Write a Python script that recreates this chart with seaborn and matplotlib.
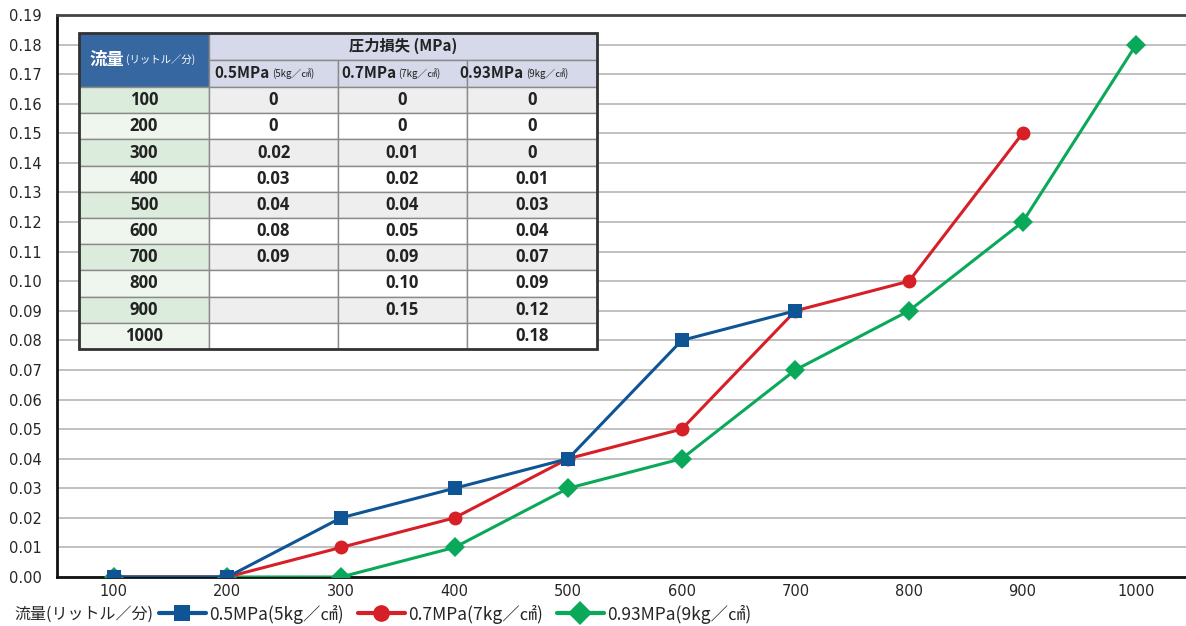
import numpy as np
import pandas as pd
import matplotlib
matplotlib.use('Agg')
import matplotlib.pyplot as plt
import seaborn as sb
from matplotlib.patches import Rectangle

# data
flow = [100, 200, 300, 400, 500, 600, 700, 800, 900, 1000]
loss_05 = [0, 0, 0.02, 0.03, 0.04, 0.08, 0.09, None, None, None]
loss_07 = [0, 0, 0.01, 0.02, 0.04, 0.05, 0.09, 0.10, 0.15, None]
loss_093 = [0, 0, 0, 0.01, 0.03, 0.04, 0.07, 0.09, 0.12, 0.18]
series_names = ['0.5MPa(5kg／㎠)', '0.7MPa(7kg／㎠)', '0.93MPa(9kg／㎠)']
table_heads = ['0.5MPa', '0.7MPa', '0.93MPa']
table_subs = ['(5kg／㎠)', '(7kg／㎠)', '(9kg／㎠)']
table_fmt = [['0', '0', '0.02', '0.03', '0.04', '0.08', '0.09', '', '', ''],
             ['0', '0', '0.01', '0.02', '0.04', '0.05', '0.09', '0.10', '0.15', ''],
             ['0', '0', '0', '0.01', '0.03', '0.04', '0.07', '0.09', '0.12', '0.18']]
colors = ['#0f5596', '#d61f26', '#0aa95a']
markers = ['s', 'o', 'D']

rows = []
for name, vals in zip(series_names, [loss_05, loss_07, loss_093]):
    for f, v in zip(flow, vals):
        if v is not None:
            rows.append({'flow': f, 'loss': v, 'series': name})
df = pd.DataFrame(rows)

sb.set_style('white')
plt.rcParams['font.family'] = ['DejaVu Sans']
JP = ['Noto Sans CJK JP', 'DejaVu Sans']
TB = ['Open Sans', 'Noto Sans CJK JP']

W, H = 1186, 626
fig = plt.figure(figsize=(W / 100, H / 100), dpi=100)
ax_l, ax_r, ax_t, ax_b = 57, 1193, 15, 577
ax = fig.add_axes([ax_l / W, 1 - ax_b / H, (ax_r - ax_l) / W, (ax_b - ax_t) / H])

sb.lineplot(data=df, x='flow', y='loss', hue='series', style='series',
            palette=colors, markers=markers, dashes=False, markersize=10,
            linewidth=2.2, markeredgewidth=0, ax=ax, legend=True)
# blue drawn on top, green at the bottom
for ln, z in zip(ax.lines[:3], [5, 4, 3]):
    ln.set_zorder(z)

ax.set_xlim(50, 1050)
ax.set_ylim(0, 0.19)
ax.set_yticks(np.arange(0, 0.195, 0.01))
ax.set_yticklabels([f'{v:.2f}' for v in np.arange(0, 0.195, 0.01)])
ax.set_xticks(flow)
ax.set_xticks(np.arange(150, 1000, 100), minor=True)
ax.yaxis.grid(True, color='#b5b5b5', linewidth=1.2)
ax.tick_params(axis='y', which='major', length=7, color='#b5b5b5', width=1.2,
               labelsize=10.5, pad=4)
ax.tick_params(axis='x', which='major', length=0, labelsize=10.5, pad=5)
ax.tick_params(axis='x', which='minor', direction='in', length=10, width=2, color='#111111')
ax.set_xlabel('')
ax.set_ylabel('')
for s in ['left', 'bottom']:
    ax.spines[s].set_color('#111111')
    ax.spines[s].set_linewidth(2)
ax.spines['top'].set_color('#444444')
ax.spines['top'].set_linewidth(2)

# legend along the bottom
handles, labels = ax.get_legend_handles_labels()
ax.get_legend().remove()
for h in handles:
    h.set_markersize(12)
    h.set_linewidth(3)
fig.text(14 / W, 1 - 614 / H, '流量(リットル／分)', family=JP, fontsize=11.5,
         va='center', ha='left')
fig.legend(handles, labels, loc='center left', bbox_to_anchor=(152 / W, 1 - 614 / H),
           ncol=3, frameon=False, prop={'family': JP, 'size': 12.5},
           handlelength=2.7, handletextpad=0.2, columnspacing=0.8, borderaxespad=0)


# table drawn in pixel coordinates of the figure
def px(x, y):
    return x / W, 1 - y / H


def cell(x0, y0, x1, y1, fc):
    fx0, fy1 = px(x0, y1)
    r = Rectangle((fx0, fy1), (x1 - x0) / W, (y1 - y0) / H, transform=fig.transFigure,
                  facecolor=fc, edgecolor='#8a8a8a', linewidth=1, zorder=5)
    fig.patches.append(r)


def txt(x, y, s, size=12, ha='center', color='#222222', bold=True, fam=TB):
    fig.text(*px(x, y), s, family=fam, fontsize=size, ha=ha, va='center',
             color=color, fontweight='bold' if bold else 'normal', zorder=6)


col_x = [79, 209, 338, 467, 597]
y_top, y_h1, y_h2, y_bot = 33, 60, 87, 349
row_h = (y_bot - y_h2) / len(flow)

cell(col_x[0], y_top, col_x[1], y_h2, '#3767a1')
txt(124, 60, '流量', size=12.5, ha='right', color='white', fam=JP)
txt(126, 60, '(リットル／分)', size=7.5, ha='left', color='white', bold=False, fam=JP)
cell(col_x[1], y_top, col_x[4], y_h1, '#d6d9ea')
txt((col_x[1] + col_x[4]) / 2, 46, '圧力損失 (MPa)', size=11, fam=JP)
splits = [270, 396, 524]
for i in range(3):
    cell(col_x[i + 1], y_h1, col_x[i + 2], y_h2, '#d6d9ea')
    txt(splits[i], 73.5, table_heads[i], size=11, ha='right', fam=JP)
    txt(splits[i] + 2, 73.5, table_subs[i], size=7, ha='left', bold=False, fam=JP)

for r, f in enumerate(flow):
    y0 = y_h2 + r * row_h
    y1 = y0 + row_h
    yc = (y0 + y1) / 2
    cell(col_x[0], y0, col_x[1], y1, '#dcecdc' if r % 2 == 0 else '#eef6ee')
    txt((col_x[0] + col_x[1]) / 2, yc, str(f))
    for c in range(3):
        cell(col_x[c + 1], y0, col_x[c + 2], y1, '#eeeeee' if r % 2 == 0 else '#ffffff')
        txt((col_x[c + 1] + col_x[c + 2]) / 2, yc, table_fmt[c][r])

fx0, fy0 = px(col_x[0], y_bot)
fig.patches.append(Rectangle((fx0, fy0), (col_x[4] - col_x[0]) / W, (y_bot - y_top) / H,
                             transform=fig.transFigure, facecolor='none',
                             edgecolor='#333333', linewidth=2, zorder=7))

fig.savefig('out.png', dpi=100)
